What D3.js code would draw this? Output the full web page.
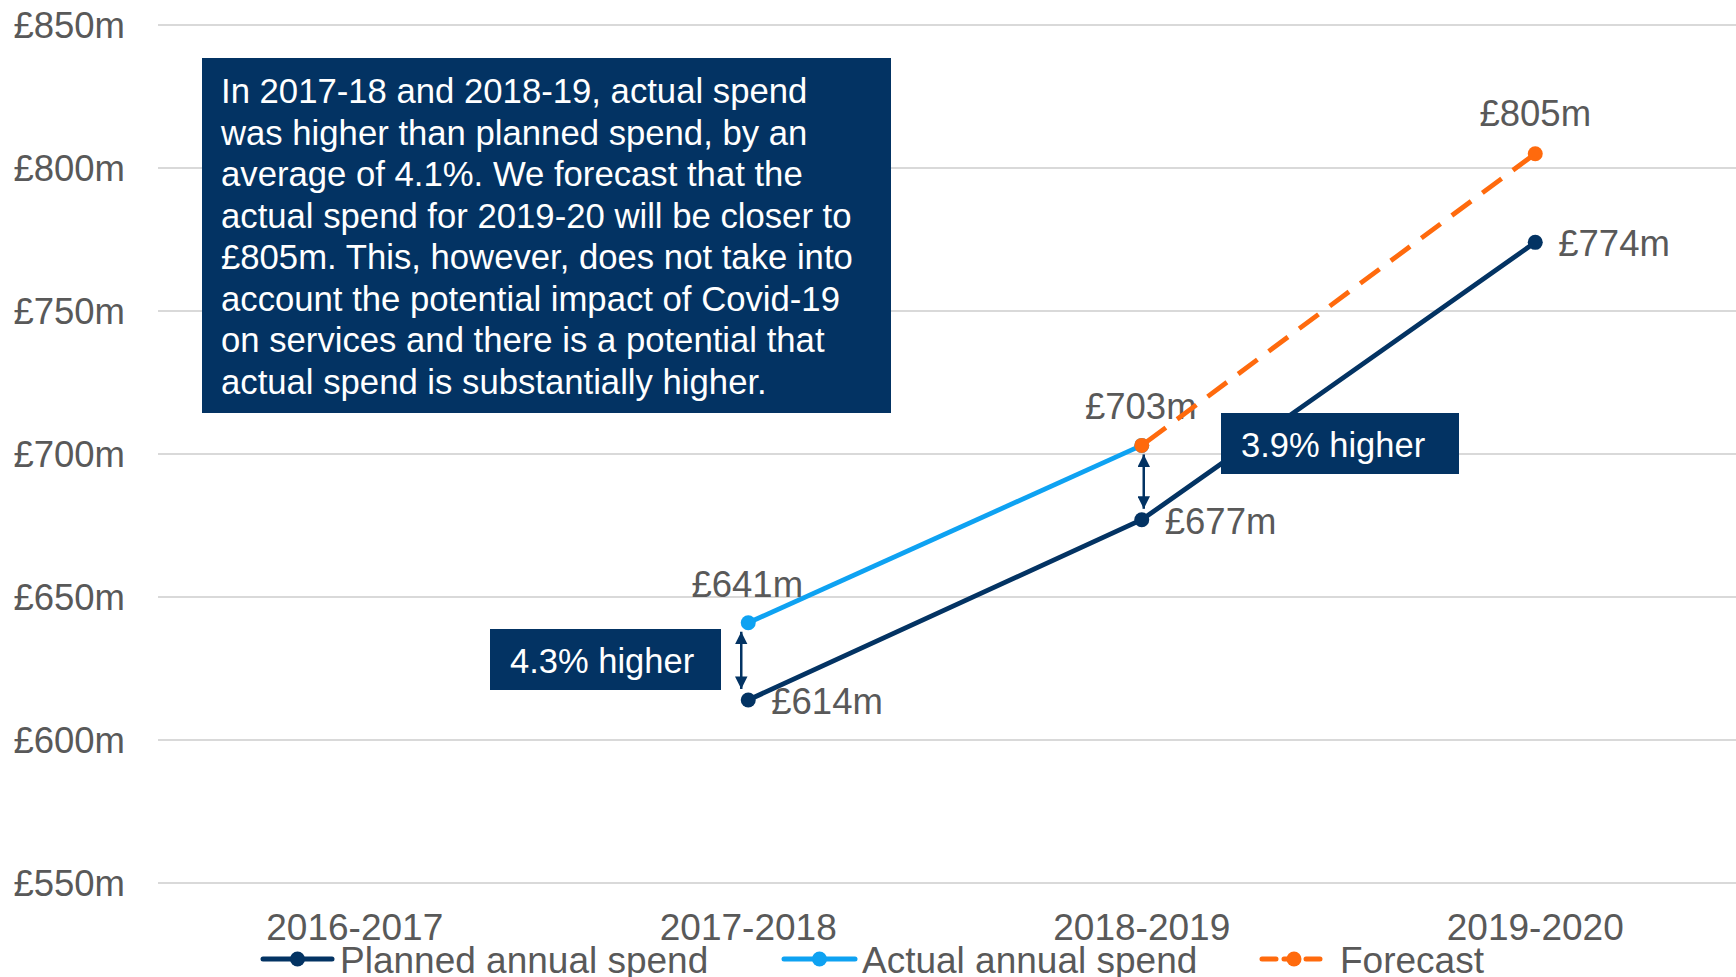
<!DOCTYPE html>
<html>
<head>
<meta charset="utf-8">
<script src="https://cdn.jsdelivr.net/npm/d3@7"></script>
<style>
  html, body { margin: 0; padding: 0; background: #fff; }
  svg { display: block; font-family: "Liberation Sans", Arial, sans-serif; }
</style>
</head>
<body>
<svg id="chart" width="1736" height="977"></svg>
<script>
// ---- Data ----
const categories = ["2016-2017", "2017-2018", "2018-2019", "2019-2020"];
const planned = [null, 614, 677, 774];
const actual = [null, 641, 703, null];
const forecast = [null, null, 703, 805];
const yTicks = [550, 600, 650, 700, 750, 800, 850];
const seriesNames = ["Planned annual spend", "Actual annual spend", "Forecast"];
const diffLabels = ["4.3% higher", "3.9% higher"];
const noteLines = [
  "In 2017-18 and 2018-19, actual spend",
  "was higher than planned spend, by an",
  "average of 4.1%. We forecast that the",
  "actual spend for 2019-20 will be closer to",
  "£805m. This, however, does not take into",
  "account the potential impact of Covid-19",
  "on services and there is a potential that",
  "actual spend is substantially higher."
];

// ---- Styles ----
const NAVY = "#033363", BLUE = "#0EA2F2", ORANGE = "#FF6A0D";
const GREY = "#595959", GRID = "#d9d9d9";

const svg = d3.select("#chart");
const x = d3.scaleBand().domain(categories).range([158, 1732]);
const cx = c => x(c) + x.bandwidth() / 2;
const y = d3.scaleLinear().domain([550, 850]).range([883, 25]);
const fmt = v => "£" + v + "m";

// gridlines
svg.append("g").selectAll("line").data(yTicks).join("line")
  .attr("x1", 158).attr("x2", 1736)
  .attr("y1", d => y(d)).attr("y2", d => y(d))
  .attr("stroke", GRID).attr("stroke-width", 2);

// y labels
svg.append("g").selectAll("text").data(yTicks).join("text")
  .attr("x", 125).attr("y", d => y(d)).attr("dy", "0.35em")
  .attr("text-anchor", "end").attr("fill", GREY)
  .attr("font-size", 36.5).text(d => fmt(d));

// x labels
svg.append("g").selectAll("text").data(categories).join("text")
  .attr("x", d => cx(d)).attr("y", 927).attr("dy", "0.35em")
  .attr("text-anchor", "middle").attr("fill", GREY)
  .attr("font-size", 37).text(d => d);

// note box
const note = svg.append("g");
note.append("rect").attr("x", 202).attr("y", 58).attr("width", 689).attr("height", 355).attr("fill", NAVY);
note.selectAll("text").data(noteLines).join("text")
  .attr("x", 221).attr("y", (d, i) => 91 + i * 41.5).attr("dy", "0.35em")
  .attr("fill", "#fff").attr("font-size", 34.7).text(d => d);

// lines
function pts(arr) {
  return categories.map((c, i) => ({ c, v: arr[i] })).filter(d => d.v != null);
}
const line = d3.line().x(d => cx(d.c)).y(d => y(d.v));

svg.append("path").datum(pts(planned)).attr("d", line)
  .attr("fill", "none").attr("stroke", NAVY).attr("stroke-width", 4.8);
svg.append("path").datum(pts(actual)).attr("d", line)
  .attr("fill", "none").attr("stroke", BLUE).attr("stroke-width", 4.8);

// diff boxes (drawn over the planned line)
const diffBoxes = [
  { label: diffLabels[0], x: 490, y: 629, w: 231, h: 61 },
  { label: diffLabels[1], x: 1221, y: 413, w: 238, h: 61 }
];
diffBoxes.forEach(b => {
  svg.append("rect").attr("x", b.x).attr("y", b.y).attr("width", b.w).attr("height", b.h).attr("fill", NAVY);
  svg.append("text").attr("x", b.x + 20).attr("y", b.y + b.h / 2 + 1).attr("dy", "0.35em")
    .attr("fill", "#fff").attr("font-size", 34.5).text(b.label);
});

// double arrows between actual and planned
const defs = svg.append("defs");
defs.append("marker").attr("id", "ah").attr("viewBox", "0 0 10 10")
  .attr("refX", 10).attr("refY", 5).attr("markerWidth", 5).attr("markerHeight", 5)
  .attr("orient", "auto-start-reverse").attr("markerUnits", "strokeWidth")
  .append("path").attr("d", "M0,0 L10,5 L0,10 Z").attr("fill", NAVY);
[{ c: categories[1], dx: -7 }, { c: categories[2], dx: 2 }].forEach(a => {
  const i = categories.indexOf(a.c);
  const top = y(actual[i]) + 9, bot = y(planned[i]) - 11;
  svg.append("line").attr("x1", cx(a.c) + a.dx).attr("x2", cx(a.c) + a.dx)
    .attr("y1", top).attr("y2", bot)
    .attr("stroke", NAVY).attr("stroke-width", 2.5)
    .attr("marker-start", "url(#ah)").attr("marker-end", "url(#ah)");
});

// markers planned & actual
svg.append("g").selectAll("circle").data(pts(planned)).join("circle")
  .attr("cx", d => cx(d.c)).attr("cy", d => y(d.v)).attr("r", 7.5).attr("fill", NAVY);
svg.append("g").selectAll("circle").data(pts(actual)).join("circle")
  .attr("cx", d => cx(d.c)).attr("cy", d => y(d.v)).attr("r", 7.5).attr("fill", BLUE);

// data labels
svg.append("g").selectAll("text").data(pts(planned)).join("text")
  .attr("x", d => cx(d.c) + 23).attr("y", d => y(d.v) + 1).attr("dy", "0.35em")
  .attr("fill", GREY).attr("font-size", 36.5).text(d => fmt(d.v));
svg.append("g").selectAll("text").data(pts(actual)).join("text")
  .attr("x", d => cx(d.c) - 1).attr("y", d => y(d.v) - 39).attr("dy", "0.35em")
  .attr("text-anchor", "middle").attr("fill", GREY).attr("font-size", 36.5).text(d => fmt(d.v));
const fpts = pts(forecast);
svg.append("text").attr("x", cx(fpts[fpts.length - 1].c)).attr("y", y(fpts[fpts.length - 1].v) - 40)
  .attr("dy", "0.35em").attr("text-anchor", "middle").attr("fill", GREY).attr("font-size", 36.5)
  .text(fmt(fpts[fpts.length - 1].v));

// forecast line (dashed) drawn on top
svg.append("path").datum(fpts).attr("d", line)
  .attr("fill", "none").attr("stroke", ORANGE).attr("stroke-width", 4.8)
  .attr("stroke-dasharray", "24,14").attr("stroke-dashoffset", -6);
svg.append("g").selectAll("circle").data(fpts).join("circle")
  .attr("cx", d => cx(d.c)).attr("cy", d => y(d.v)).attr("r", 7.5).attr("fill", ORANGE);

// legend
const legendItems = [
  { name: seriesNames[0], color: NAVY, dash: null, x0: 263, x1: 332, tx: 340 },
  { name: seriesNames[1], color: BLUE, dash: null, x0: 784, x1: 855, tx: 862 },
  { name: seriesNames[2], color: ORANGE, dash: "14,8", x0: 1262, x1: 1326, tx: 1340 }
];
const lg = svg.append("g");
const ly = 959;
legendItems.forEach(it => {
  lg.append("line").attr("x1", it.x0).attr("x2", it.x1).attr("y1", ly).attr("y2", ly)
    .attr("stroke", it.color).attr("stroke-width", 5).attr("stroke-linecap", "round")
    .attr("stroke-dasharray", it.dash);
  lg.append("circle").attr("cx", (it.x0 + it.x1) / 2).attr("cy", ly).attr("r", 7.5).attr("fill", it.color);
  lg.append("text").attr("x", it.tx).attr("y", ly + 1).attr("dy", "0.35em")
    .attr("fill", GREY).attr("font-size", 37).text(it.name);
});
</script>
</body>
</html>
